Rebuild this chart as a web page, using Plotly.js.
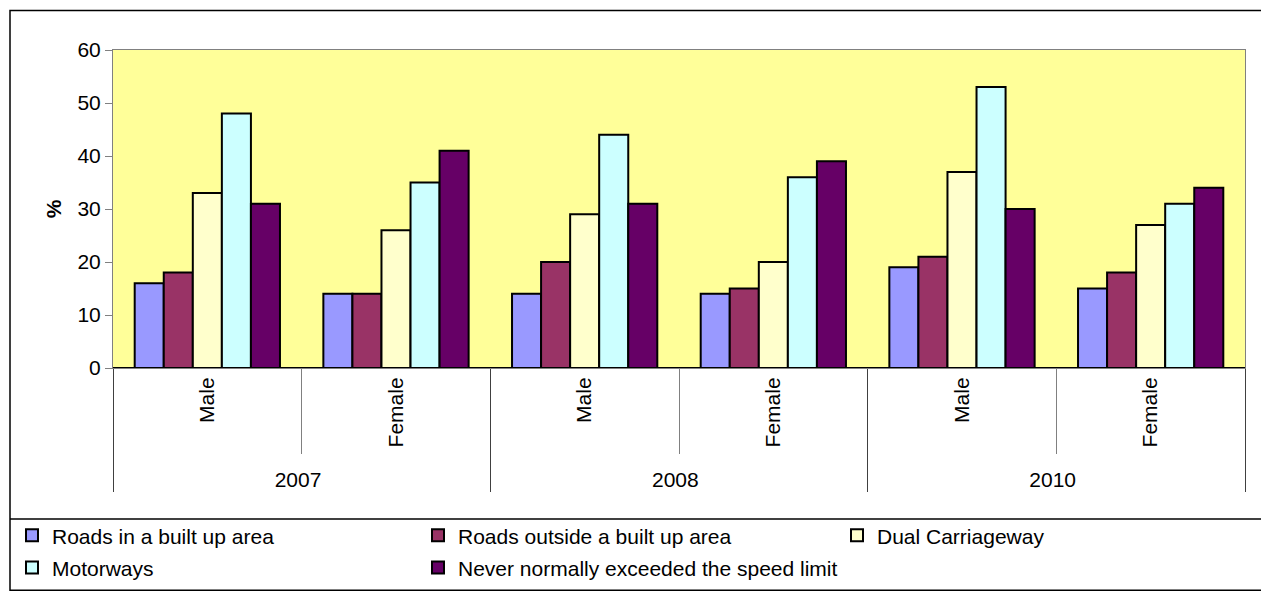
<!DOCTYPE html>
<html><head><meta charset="utf-8">
<script src="https://cdn.plot.ly/plotly-3.0.1.min.js"></script>
<style>body{margin:0;background:#fff}#c{width:1261px;height:600px}</style>
</head><body><div id="c"></div>
<script>
const years = ["2007","2007","2008","2008","2010","2010"];
const sexes = ["Male","Female","Male","Female","Male","Female"];
const seriesNames = ["Roads in a built up area","Roads outside a built up area","Dual Carriageway","Motorways","Never normally exceeded the speed limit"];
const builtUp   = [16,14,14,14,19,15];
const outside   = [18,14,20,15,21,18];
const dual      = [33,26,29,20,37,27];
const motorways = [48,35,44,36,53,31];
const never     = [31,41,31,39,30,34];
const colors = ["#9999FF","#993366","#FFFFCC","#CCFFFF","#660066"];
const values = [builtUp, outside, dual, motorways, never];
// legend column for each series (matches the reference legend layout)
const legendIds = ["legend","legend2","legend3","legend","legend2"];

const traces = values.map((v,i)=>({
  type:"bar", x:[years, sexes], y:v, name:seriesNames[i],
  legend:legendIds[i], legendgroup:"g"+i,
  marker:{color:colors[i], line:{color:"#000", width:2}},
  hoverinfo:"y"
}));

const L=113,R=1245,T=50,B=372;
const px = x => (x-L)/(R-L);
const py = y => (B-y)/(B-T);

const legBase = {orientation:"v", xref:"paper", yref:"paper", y:py(521),
  xanchor:"left", yanchor:"top", traceorder:"grouped", tracegroupgap:2,
  font:{size:21}, itemwidth:30, bgcolor:"rgba(0,0,0,0)"};

const layout = {
  width:1261, height:600,
  margin:{l:L, r:1261-R, t:T, b:600-B},
  paper_bgcolor:"#fff", plot_bgcolor:"#FFFF99",
  font:{family:"Liberation Sans, Arial, sans-serif", size:21, color:"#000"},
  barmode:"group", bargap:0.23, bargroupgap:0,
  showlegend:true,
  legend:Object.assign({}, legBase, {x:px(12)}),
  legend2:Object.assign({}, legBase, {x:px(418)}),
  legend3:Object.assign({}, legBase, {x:px(837)}),
  xaxis:{type:"multicategory", tickangle:-90, showline:true, linecolor:"#808080", linewidth:1, mirror:true,
         ticks:"outside", tickson:"boundaries", ticklen:85, tickcolor:"#808080",
         showdividers:true, dividercolor:"#404040", dividerwidth:1, tickfont:{size:21}, automargin:false},
  yaxis:{range:[0,60], dtick:10, showline:true, linecolor:"#808080", mirror:true,
         ticks:"outside", ticklen:7, tickcolor:"#808080", showgrid:false,
         zeroline:true, zerolinecolor:"#000", zerolinewidth:2, tickfont:{size:21}, automargin:false,
         title:{text:"<b>%</b>", font:{size:21}}},
  shapes:[
    {type:"rect", xref:"paper", yref:"paper", x0:px(10), x1:px(1263), y0:py(597), y1:py(10), line:{color:"#000", width:1.5}, layer:"below"},
    {type:"line", xref:"paper", yref:"paper", x0:px(10), x1:px(1263), y0:py(525), y1:py(525), line:{color:"#000", width:1.5}}
  ]
};
Plotly.newPlot("c", traces, layout, {displayModeBar:false, staticPlot:true});
</script></body></html>
